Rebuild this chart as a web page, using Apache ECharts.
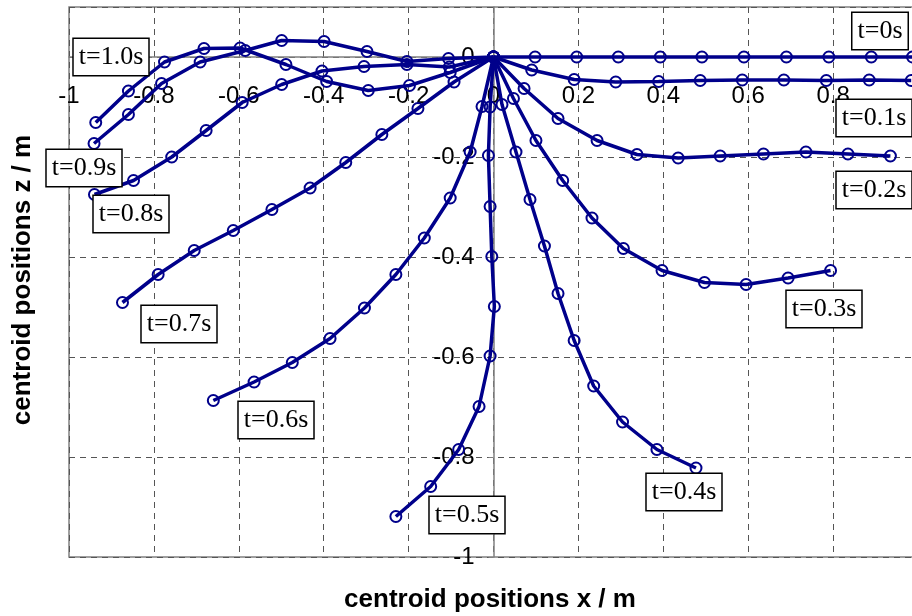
<!DOCTYPE html>
<html>
<head>
<meta charset="utf-8">
<script src="https://cdn.jsdelivr.net/npm/echarts@6/dist/echarts.min.js"></script>
<style>
  html, body { margin: 0; padding: 0; background: #fff; }
  #myChart { width: 912px; height: 616px; }
</style>
</head>
<body>
<div id="myChart"></div>
<script>
// centroid positions [x, z] in m, one array per time step
const t00 = [[0, 0], [0.098, 0], [0.196, 0], [0.294, 0], [0.393, 0], [0.491, 0], [0.59, 0], [0.69, 0], [0.79, 0], [0.89, 0], [0.987, 0]];
const t01 = [[0, 0], [0.09, -0.026], [0.19, -0.045], [0.288, -0.05], [0.389, -0.049], [0.487, -0.047], [0.586, -0.046], [0.684, -0.046], [0.784, -0.047], [0.885, -0.046], [0.984, -0.047]];
const t02 = [[0, 0], [0.072, -0.063], [0.152, -0.123], [0.244, -0.167], [0.338, -0.195], [0.435, -0.202], [0.534, -0.198], [0.636, -0.194], [0.736, -0.19], [0.835, -0.194], [0.935, -0.198]];
const t03 = [[0, 0], [0.047, -0.083], [0.1, -0.167], [0.163, -0.247], [0.232, -0.322], [0.306, -0.383], [0.397, -0.427], [0.497, -0.451], [0.595, -0.455], [0.694, -0.442], [0.794, -0.427]];
const t04 = [[0, 0], [0.02, -0.095], [0.053, -0.19], [0.086, -0.285], [0.12, -0.378], [0.152, -0.473], [0.19, -0.567], [0.236, -0.658], [0.304, -0.73], [0.385, -0.785], [0.477, -0.822]];
const t05 = [[0, 0], [-0.008, -0.1], [-0.012, -0.197], [-0.008, -0.299], [-0.004, -0.399], [0.002, -0.499], [-0.008, -0.598], [-0.034, -0.699], [-0.082, -0.785], [-0.148, -0.859], [-0.23, -0.919]];
const t06 = [[0, 0], [-0.027, -0.099], [-0.055, -0.19], [-0.102, -0.282], [-0.163, -0.362], [-0.23, -0.435], [-0.304, -0.502], [-0.385, -0.563], [-0.474, -0.611], [-0.564, -0.65], [-0.66, -0.687]];
const t07 = [[0, 0], [-0.093, -0.05], [-0.178, -0.103], [-0.263, -0.155], [-0.348, -0.211], [-0.432, -0.262], [-0.522, -0.305], [-0.613, -0.347], [-0.705, -0.387], [-0.79, -0.435], [-0.874, -0.491]];
const t08 = [[0, 0], [-0.104, -0.02], [-0.204, -0.015], [-0.305, -0.019], [-0.404, -0.028], [-0.499, -0.055], [-0.592, -0.091], [-0.677, -0.147], [-0.758, -0.2], [-0.848, -0.247], [-0.94, -0.275]];
const t09 = [[0, 0], [-0.106, -0.003], [-0.204, -0.009], [-0.298, 0.011], [-0.399, 0.031], [-0.499, 0.033], [-0.585, 0.013], [-0.691, -0.01], [-0.782, -0.053], [-0.86, -0.115], [-0.941, -0.173]];
const t10 = [[0, 0], [-0.102, -0.031], [-0.198, -0.057], [-0.295, -0.067], [-0.393, -0.049], [-0.489, -0.015], [-0.597, 0.018], [-0.682, 0.017], [-0.775, -0.01], [-0.86, -0.068], [-0.937, -0.131]];

const seriesNames = ['t=0s', 't=0.1s', 't=0.2s', 't=0.3s', 't=0.4s', 't=0.5s', 't=0.6s', 't=0.7s', 't=0.8s', 't=0.9s', 't=1.0s'];
const seriesData = [t00, t01, t02, t03, t04, t05, t06, t07, t08, t09, t10];

// where each time label box sits (pixel centre)
const labelPos = [[880, 31], [874, 118], [874, 190], [824, 309], [684, 492], [467, 515], [276, 420], [179, 324], [131, 214], [84, 168], [111, 57]];

const navy = '#00008b';
let myChart = echarts.init(document.getElementById('myChart'));

let labelBoxes = seriesNames.map((name, i) => ({
  type: 'text',
  x: labelPos[i][0],
  y: labelPos[i][1],
  z: 100,
  style: {
    text: name,
    font: '26px "Liberation Serif"',
    fill: '#000',
    align: 'center',
    verticalAlign: 'middle',
    backgroundColor: '#fff',
    borderColor: '#000',
    borderWidth: 1.5,
    padding: [5, 5]
  }
}));

// axes cross at the origin: shift them from the frame edges
// grid is 550px tall for 1.1 units -> y=0 sits 500px above the bottom,
// and 849px wide for 2 units -> x=0 sits 424.5px right of the left edge
myChart.setOption({
  animation: false,
  grid: {
    left: 69,
    top: 7,
    right: -6,
    bottom: 59,
    show: true,
    borderColor: '#808080',
    borderWidth: 1.5,
    outerBoundsMode: 'none'
  },
  xAxis: {
    type: 'value',
    min: -1,
    max: 1,
    interval: 0.2,
    position: 'bottom',
    offset: -500,
    axisLine: { onZero: false, lineStyle: { color: '#808080', width: 1.5 } },
    axisTick: { show: false },
    axisLabel: { margin: 27, color: '#000', fontFamily: 'Liberation Sans', fontSize: 24 },
    splitLine: { show: true, lineStyle: { color: '#555', type: [6, 5], width: 1 } }
  },
  yAxis: {
    type: 'value',
    min: -1,
    max: 0.1,
    interval: 0.2,
    position: 'left',
    offset: -424.5,
    axisLine: { onZero: false, lineStyle: { color: '#808080', width: 1.5 } },
    axisTick: { show: true, length: 5, lineStyle: { color: '#808080' } },
    axisLabel: { margin: 19, color: '#000', fontFamily: 'Liberation Sans', fontSize: 24, showMaxLabel: false },
    splitLine: { show: true, lineStyle: { color: '#555', type: [6, 5], width: 1 } }
  },
  graphic: labelBoxes.concat([
    {
      type: 'text',
      x: 490,
      y: 600,
      style: {
        text: 'centroid positions x / m',
        font: 'bold 26px "Liberation Sans"',
        fill: '#000',
        align: 'center',
        verticalAlign: 'middle'
      }
    },
    {
      type: 'text',
      x: 23,
      y: 280,
      rotation: Math.PI / 2,
      style: {
        text: 'centroid positions z / m',
        font: 'bold 26px "Liberation Sans"',
        fill: '#000',
        align: 'center',
        verticalAlign: 'middle'
      }
    }
  ]),
  series: seriesData.map((d, i) => ({
    name: seriesNames[i],
    type: 'line',
    data: d,
    symbol: 'circle',
    symbolSize: 11,
    showSymbol: true,
    lineStyle: { color: navy, width: 3.5 },
    itemStyle: { color: 'rgba(0,0,0,0)', borderColor: navy, borderWidth: 2 },
    emphasis: { disabled: true }
  }))
});
</script>
</body>
</html>
